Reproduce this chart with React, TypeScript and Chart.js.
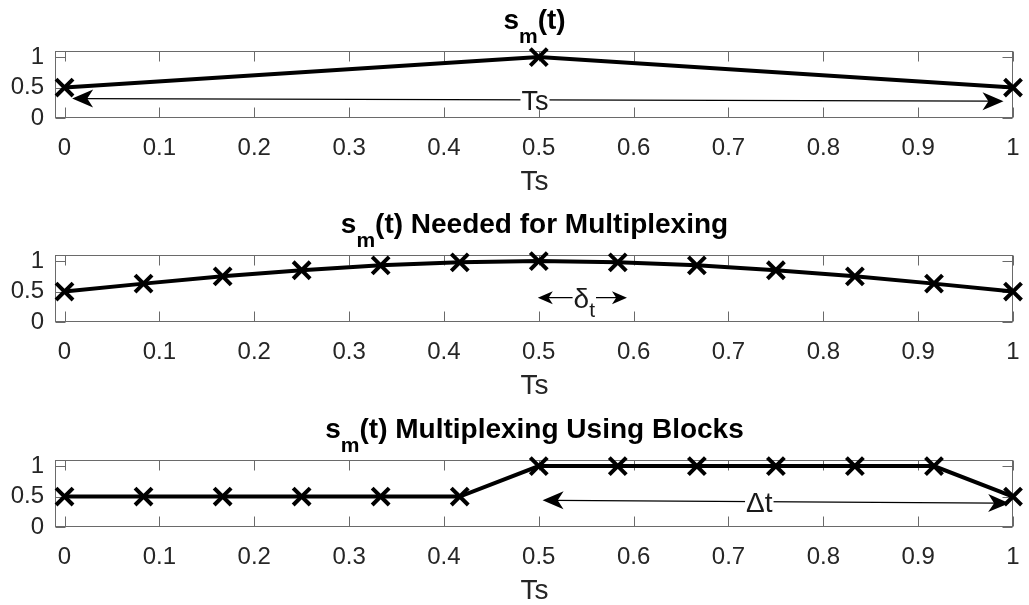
import React, { useEffect, useRef } from 'react';
import { Chart, registerables } from 'chart.js';

Chart.register(...registerables);

const FONT = "'Liberation Sans', Arial, Helvetica, sans-serif";

// ---- data ----
const panel1X = [0, 0.5, 1];
const panel1Y = [0.5, 1, 0.5];

const sampleX = [0, 0.0833, 0.1667, 0.25, 0.3333, 0.4167, 0.5, 0.5833, 0.6667, 0.75, 0.8333, 0.9167, 1];
const panel2Y = [0.5, 0.63, 0.75, 0.85, 0.93, 0.98, 1, 0.98, 0.93, 0.85, 0.75, 0.63, 0.5];
const panel3Y = [0.5, 0.5, 0.5, 0.5, 0.5, 0.5, 1, 1, 1, 1, 1, 1, 0.5];

const xTickValues = [0, 0.1, 0.2, 0.3, 0.4, 0.5, 0.6, 0.7, 0.8, 0.9, 1];
const xTickLabels = ['0', '0.1', '0.2', '0.3', '0.4', '0.5', '0.6', '0.7', '0.8', '0.9', '1'];
const yTickValues = [0, 0.5, 1];
const yTickLabels = ['0', '0.5', '1'];

const xLabel = 'Ts';

type Part = { t: string; sub?: boolean };
const title1: Part[] = [{ t: 's' }, { t: 'm', sub: true }, { t: '(t)' }];
const title2: Part[] = [{ t: 's' }, { t: 'm', sub: true }, { t: '(t) Needed for Multiplexing' }];
const title3: Part[] = [{ t: 's' }, { t: 'm', sub: true }, { t: '(t) Multiplexing Using Blocks' }];

// annotation arrows (data coordinates) : [x1, y1, x2, y2]
const arrow1 = [0.008, 0.32, 0.99, 0.275];
const arrow2 = [0.499, 0.4, 0.593, 0.4];
const arrow3 = [0.504, 0.44, 0.996, 0.39];
const arrowLabel1: Part[] = [{ t: 'Ts' }];
const arrowLabel2: Part[] = [{ t: 'δ' }, { t: 't', sub: true }];
const arrowLabel3: Part[] = [{ t: 'Δt' }];
const arrowLabelX = [0.496, 0.548, 0.7325];

function richWidth(ctx: CanvasRenderingContext2D, parts: Part[], size: number, sub: number, bold: boolean) {
  let w = 0;
  for (const p of parts) {
    ctx.font = `${bold ? 'bold ' : ''}${p.sub ? sub : size}px ${FONT}`;
    w += ctx.measureText(p.t).width;
  }
  return w;
}

function drawRich(
  ctx: CanvasRenderingContext2D,
  parts: Part[],
  cx: number,
  baseY: number,
  size: number,
  sub: number,
  subDy: number,
  bold: boolean,
  color: string
) {
  const total = richWidth(ctx, parts, size, sub, bold);
  let x = cx - total / 2;
  ctx.save();
  ctx.fillStyle = color;
  ctx.textBaseline = 'alphabetic';
  ctx.textAlign = 'left';
  for (const p of parts) {
    ctx.font = `${bold ? 'bold ' : ''}${p.sub ? sub : size}px ${FONT}`;
    ctx.fillText(p.t, x, p.sub ? baseY + subDy : baseY);
    x += ctx.measureText(p.t).width;
  }
  ctx.restore();
  return total;
}

function arrowHead(ctx: CanvasRenderingContext2D, tx: number, ty: number, ang: number, len: number, half: number) {
  const cos = Math.cos(ang);
  const sin = Math.sin(ang);
  const bx = tx - cos * len;
  const by = ty - sin * len;
  const nx = -sin;
  const ny = cos;
  const notchX = tx - cos * len * 0.72;
  const notchY = ty - sin * len * 0.72;
  ctx.beginPath();
  ctx.moveTo(tx, ty);
  ctx.lineTo(bx + nx * half, by + ny * half);
  ctx.lineTo(notchX, notchY);
  ctx.lineTo(bx - nx * half, by - ny * half);
  ctx.closePath();
  ctx.fill();
}

type PanelCfg = {
  xs: number[];
  ys: number[];
  title: Part[];
  arrow: number[];
  label: Part[];
  labelX: number;
  headLen: number;
  headHalf: number;
  labelSize: number;
};

const panels: PanelCfg[] = [
  { xs: panel1X, ys: panel1Y, title: title1, arrow: arrow1, label: arrowLabel1, labelX: arrowLabelX[0], headLen: 21, headHalf: 9, labelSize: 27 },
  { xs: sampleX, ys: panel2Y, title: title2, arrow: arrow2, label: arrowLabel2, labelX: arrowLabelX[1], headLen: 15, headHalf: 6.5, labelSize: 28 },
  { xs: sampleX, ys: panel3Y, title: title3, arrow: arrow3, label: arrowLabel3, labelX: arrowLabelX[2], headLen: 21, headHalf: 9, labelSize: 28 },
];

const canvasTops = [0, 204, 409];

const boxPlugin = {
  id: 'matlabBox',
  beforeDatasetsDraw(chart: any) {
    const { ctx, chartArea } = chart;
    const xs = chart.scales.x;
    const ys = chart.scales.y;
    const L = Math.round(chartArea.left) - 0.5;
    const R = Math.round(chartArea.right) - 0.5;
    const T = Math.round(chartArea.top) + 0.5;
    const B = Math.round(chartArea.bottom) - 0.5;
    ctx.save();
    ctx.strokeStyle = '#6a6a6a';
    ctx.lineWidth = 1;
    ctx.strokeRect(L, T, R - L, B - T);
    const tl = 10;
    ctx.beginPath();
    for (const v of xTickValues) {
      const px = Math.round(xs.getPixelForValue(v)) + 0.5;
      ctx.moveTo(px, B);
      ctx.lineTo(px, B - tl);
      ctx.moveTo(px, T);
      ctx.lineTo(px, T + tl);
    }
    for (const v of yTickValues) {
      const py = Math.round(ys.getPixelForValue(v)) + 0.5;
      ctx.moveTo(L, py);
      ctx.lineTo(L + tl, py);
      ctx.moveTo(R, py);
      ctx.lineTo(R - tl, py);
    }
    ctx.stroke();
    ctx.restore();
  },
  afterDraw(chart: any) {
    const cfg: PanelCfg = chart.options.plugins.matlabBox.cfg;
    const { ctx, chartArea } = chart;
    const xs = chart.scales.x;
    const ys = chart.scales.y;
    const cx = (chartArea.left + chartArea.right) / 2;
    drawRich(ctx, cfg.title, cx, chartArea.top - 22, 28, 21, 14, true, '#000');
    const [x1, y1, x2, y2] = cfg.arrow;
    const p1x = xs.getPixelForValue(x1);
    const p1y = ys.getPixelForValue(y1);
    const p2x = xs.getPixelForValue(x2);
    const p2y = ys.getPixelForValue(y2);
    ctx.save();
    ctx.strokeStyle = '#000';
    ctx.fillStyle = '#000';
    ctx.lineWidth = 1.2;
    const ang = Math.atan2(p2y - p1y, p2x - p1x);
    ctx.beginPath();
    ctx.moveTo(p1x + Math.cos(ang) * cfg.headLen * 0.6, p1y + Math.sin(ang) * cfg.headLen * 0.6);
    ctx.lineTo(p2x - Math.cos(ang) * cfg.headLen * 0.6, p2y - Math.sin(ang) * cfg.headLen * 0.6);
    ctx.stroke();
    arrowHead(ctx, p2x, p2y, ang, cfg.headLen, cfg.headHalf);
    arrowHead(ctx, p1x, p1y, ang + Math.PI, cfg.headLen, cfg.headHalf);
    const lx = xs.getPixelForValue(cfg.labelX);
    const f = (lx - p1x) / (p2x - p1x);
    const ly = p1y + (p2y - p1y) * f;
    const size = cfg.labelSize;
    const w = richWidth(ctx, cfg.label, size, 21, false);
    ctx.fillStyle = '#fff';
    ctx.fillRect(lx - w / 2 - 1, ly - size * 0.42, w + 2, size * 0.8);
    drawRich(ctx, cfg.label, lx, ly + size * 0.36, size, 21, 9, false, '#1a1a1a');
    ctx.restore();
  },
};

function makeConfig(cfg: PanelCfg): any {
  return {
    type: 'line',
    data: {
      datasets: [
        {
          data: cfg.xs.map((x, i) => ({ x, y: cfg.ys[i] })),
          borderColor: '#000',
          borderWidth: 4,
          pointStyle: 'crossRot',
          pointRadius: 12,
          pointBorderWidth: 4,
          pointBorderColor: '#000',
          pointBackgroundColor: '#000',
          tension: 0,
          fill: false,
          clip: false,
        },
      ],
    },
    options: {
      responsive: false,
      maintainAspectRatio: false,
      devicePixelRatio: 1,
      animation: false,
      events: [],
      layout: { padding: { top: 51, left: 0, right: 5.5, bottom: 0 } },
      plugins: {
        legend: { display: false },
        tooltip: { enabled: false },
        title: { display: false },
        matlabBox: { cfg },
      },
      scales: {
        x: {
          type: 'linear',
          min: -0.009,
          max: 1,
          grid: { display: false, drawTicks: false },
          border: { display: false },
          afterBuildTicks: (s: any) => {
            s.ticks = xTickValues.map((v) => ({ value: v }));
          },
          afterFit: (s: any) => {
            s.height = 82;
            s.paddingLeft = 0;
            s.paddingRight = 0;
          },
          ticks: {
            autoSkip: false,
            maxRotation: 0,
            minRotation: 0,
            padding: 16,
            color: '#262626',
            font: { family: FONT, size: 24 },
            callback: (_v: any, i: number) => xTickLabels[i],
          },
          title: {
            display: true,
            text: xLabel,
            color: '#262626',
            font: { family: FONT, size: 28 },
            padding: { top: 0, bottom: 0.7 },
          },
        },
        y: {
          type: 'linear',
          min: 0,
          max: 1.1,
          grid: { display: false, drawTicks: false },
          border: { display: false },
          afterBuildTicks: (s: any) => {
            s.ticks = yTickValues.map((v) => ({ value: v }));
          },
          afterFit: (s: any) => {
            s.width = 56;
            s.paddingTop = 0;
            s.paddingBottom = 0;
          },
          ticks: {
            padding: 12,
            color: '#262626',
            font: { family: FONT, size: 24 },
            callback: (_v: any, i: number) => yTickLabels[i],
          },
        },
      },
    },
    plugins: [boxPlugin],
  };
}

export default function App() {
  const r0 = useRef<HTMLCanvasElement>(null);
  const r1 = useRef<HTMLCanvasElement>(null);
  const r2 = useRef<HTMLCanvasElement>(null);
  const refs = [r0, r1, r2];

  useEffect(() => {
    const charts = refs.map((r, i) => new Chart(r.current as HTMLCanvasElement, makeConfig(panels[i])));
    return () => charts.forEach((c) => c.destroy());
  }, []);

  return (
    <div
      style={{
        position: 'absolute',
        left: 0,
        top: 0,
        width: 1029,
        height: 605,
        overflow: 'hidden',
        background: '#fff',
      }}
    >
      {refs.map((r, i) => (
        <canvas
          key={i}
          ref={r}
          width={1029}
          height={200}
          style={{ position: 'absolute', left: 0, top: canvasTops[i], width: 1029, height: 200 }}
        />
      ))}
    </div>
  );
}
